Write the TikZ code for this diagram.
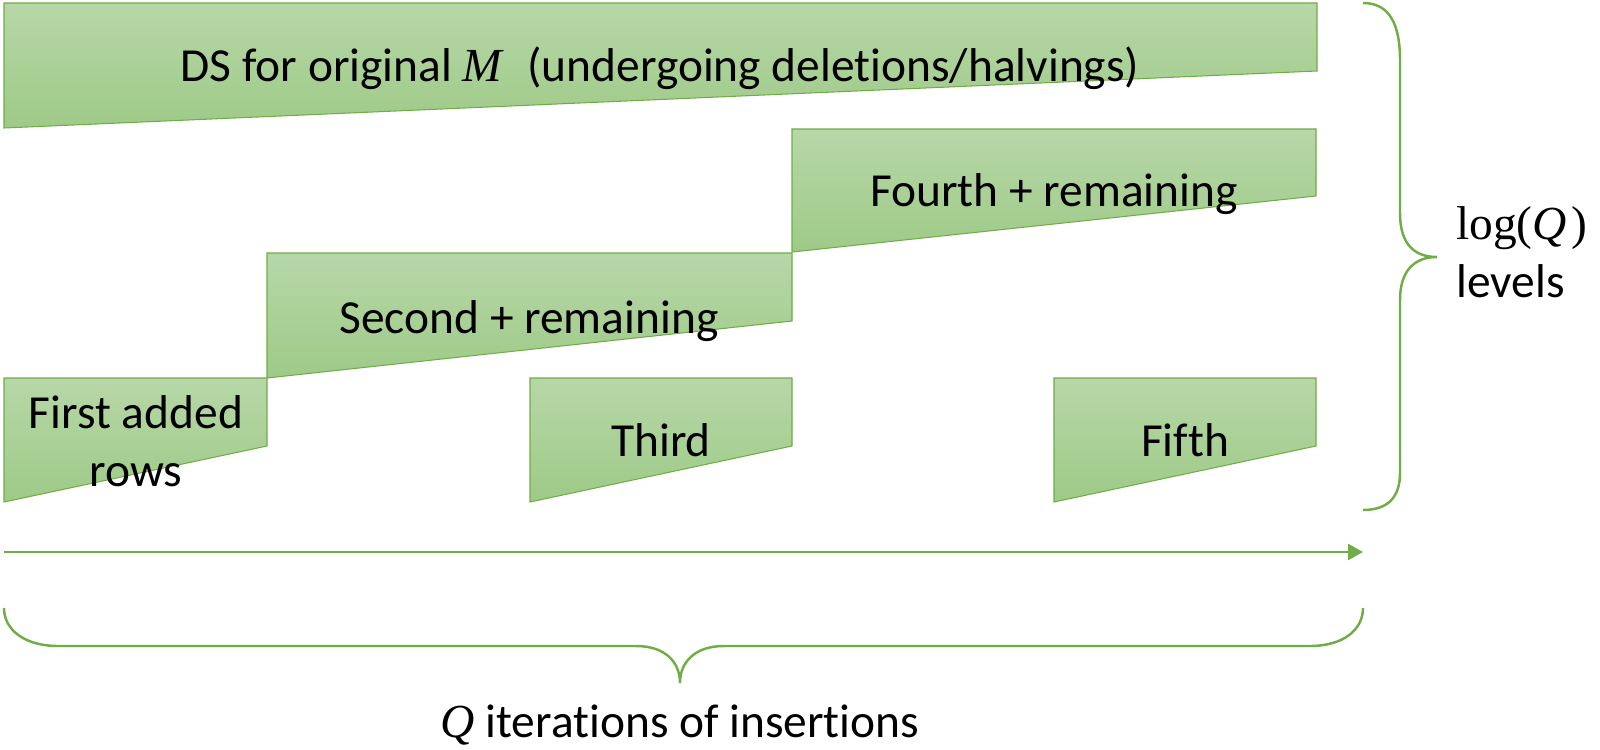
\documentclass[tikz,border=0pt]{standalone}
\usepackage[no-math]{fontspec}
\setmainfont{Carlito}[Ligatures=NoCommon]
\newfontfamily\mathserif{Liberation Serif}
\newcommand{\mvar}[1]{{\mathserif\itshape #1}}
\usetikzlibrary{arrows.meta}

\definecolor{officegreen}{RGB}{112,173,71}
\definecolor{greentop}{RGB}{183,215,168}
\definecolor{greenbot}{RGB}{158,202,135}

\tikzset{
  block/.style={draw=officegreen, line width=0.6pt, top color=greentop, bottom color=greenbot},
  blocktext/.style={font=\fontsize{27}{32.5}\selectfont, anchor=base, align=center, inner sep=0pt},
  curly/.style={draw=officegreen, line width=1.4pt},
  timeline/.style={draw=officegreen, line width=1.6pt, -{Triangle[length=8.5pt,width=9pt]}}
}

\begin{document}
\begin{tikzpicture}[x=0.02cm, y=-0.02cm]

    % --- Canvas (pixel grid, y pointing down) ---
    \useasboundingbox (0,0) rectangle (1600,750);

    % --- Blocks ---
    % top level: the original structure
    \draw[block] (4,3) -- (1317,3) -- (1317,71) -- (4,128) -- cycle;
    % middle levels
    \draw[block] (792,129) -- (1316,129) -- (1316,196) -- (792,252) -- cycle;
    \draw[block] (267,253) -- (792,253) -- (792,321) -- (267,378) -- cycle;
    % bottom level
    \draw[block] (4,378) -- (267,378) -- (267,446) -- (4,502) -- cycle;
    \draw[block] (530,378) -- (792,378) -- (792,446) -- (530,502) -- cycle;
    \draw[block] (1054,378) -- (1316,378) -- (1316,446) -- (1054,502) -- cycle;

    % --- Block labels ---
    \node[blocktext] (ds) at (660,82) {DS for original \mvar{M}\hspace{0.3em} (undergoing deletions/halvings)};
    \node[blocktext] (fourth) at (1054,207) {Fourth + remaining};
    \node[blocktext] (second) at (529,333) {Second + remaining};
    \node[blocktext] (first) at (136,486) {First added\\rows};
    \node[blocktext] (third) at (661,456) {Third};
    \node[blocktext] (fifth) at (1185,456) {Fifth};

    % --- Time axis ---
    \coordinate (tstart) at (4,552);
    \coordinate (tend) at (1363,552);
    \draw[timeline] (tstart) -- (tend);

    % --- Braces ---
    % right brace spanning all levels
    \draw[curly] (1363,3) .. controls (1390,3) and (1400,25) .. (1400,60)
        -- (1400,213) .. controls (1400,245) and (1415,257) .. (1437,257)
        .. controls (1415,257) and (1400,270) .. (1400,300)
        -- (1400,473) .. controls (1400,495) and (1390,510) .. (1363,510);
    % bottom brace spanning all iterations
    \draw[curly] (4,608) .. controls (4,630) and (25,646) .. (58,646)
        -- (636,646) .. controls (665,646) and (680,662) .. (680,683)
        .. controls (680,662) and (695,646) .. (724,646)
        -- (1310,646) .. controls (1343,646) and (1363,630) .. (1363,608);

    % --- Brace labels ---
    \node[blocktext, anchor=base west, align=left] (levels) at (1456,297) {{\mathserif log(}\mvar{Q}\hspace{0.1em}{\mathserif )}\\levels};
    \node[blocktext] (iters) at (680,737) {\mvar{Q} iterations of insertions};

\end{tikzpicture}
\end{document}
